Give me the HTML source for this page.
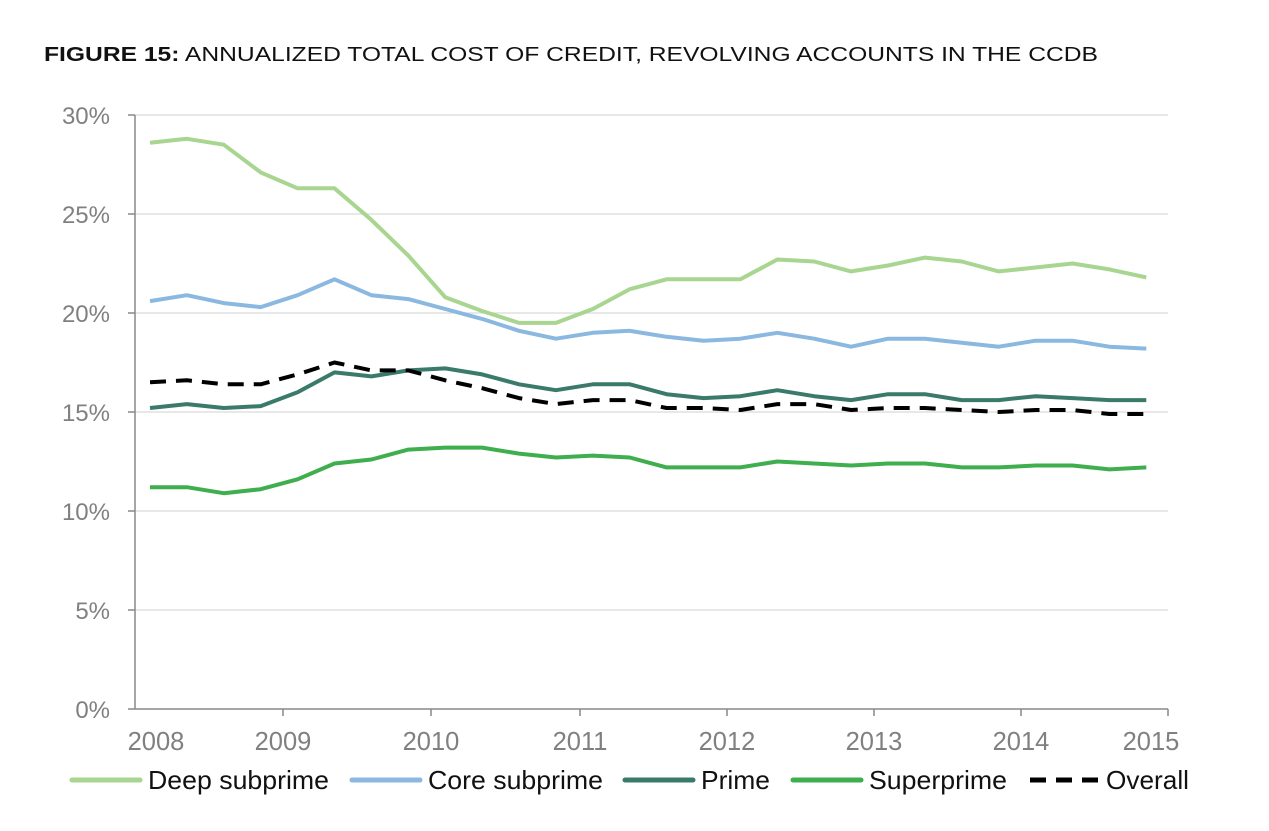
<!DOCTYPE html>
<html><head><meta charset="utf-8"><style>
body{margin:0;background:#fff;width:1269px;height:826px;overflow:hidden;font-family:"Liberation Sans",Arial,sans-serif}
</style></head><body>
<svg id="s" width="1269" height="826" xmlns="http://www.w3.org/2000/svg" font-family="Liberation Sans, Arial, sans-serif">
<rect width="1269" height="826" fill="#fff"/>
<text x="44" y="61" font-size="20" fill="#111" textLength="1054" lengthAdjust="spacingAndGlyphs"><tspan font-weight="bold">FIGURE 15:</tspan> ANNUALIZED TOTAL COST OF CREDIT, REVOLVING ACCOUNTS IN THE CCDB</text>
<g stroke="#d9d9d9" stroke-width="1.3">
<line x1="135" x2="1168" y1="115" y2="115"/><line x1="135" x2="1168" y1="214" y2="214"/>
<line x1="135" x2="1168" y1="313" y2="313"/><line x1="135" x2="1168" y1="412" y2="412"/>
<line x1="135" x2="1168" y1="511" y2="511"/><line x1="135" x2="1168" y1="610" y2="610"/>
</g>
<g stroke="#888" stroke-width="1.5">
<line x1="135" x2="135" y1="115" y2="709"/><line x1="128" x2="1168" y1="709" y2="709"/>
<line x1="128" x2="135" y1="115" y2="115"/><line x1="128" x2="135" y1="214" y2="214"/><line x1="128" x2="135" y1="313" y2="313"/><line x1="128" x2="135" y1="412" y2="412"/><line x1="128" x2="135" y1="511" y2="511"/><line x1="128" x2="135" y1="610" y2="610"/>
<line x1="283" x2="283" y1="709" y2="716"/><line x1="431" x2="431" y1="709" y2="716"/><line x1="580" x2="580" y1="709" y2="716"/><line x1="727" x2="727" y1="709" y2="716"/><line x1="874" x2="874" y1="709" y2="716"/><line x1="1021" x2="1021" y1="709" y2="716"/><line x1="1168" x2="1168" y1="709" y2="716"/>
</g>
<g font-size="24" fill="#808080" text-anchor="end">
<text x="110" y="124">30%</text><text x="110" y="223">25%</text><text x="110" y="322">20%</text><text x="110" y="421">15%</text><text x="110" y="520">10%</text><text x="110" y="619">5%</text><text x="110" y="718">0%</text>
</g>
<g font-size="25.5" fill="#808080" text-anchor="middle">
<text x="156" y="750">2008</text><text x="283" y="750">2009</text><text x="431" y="750">2010</text><text x="580" y="750">2011</text><text x="727" y="750">2012</text><text x="874" y="750">2013</text><text x="1021" y="750">2014</text><text x="1151" y="750">2015</text>
</g>
<g id="lines" fill="none" stroke-width="4" stroke-linejoin="round"></g>
<g stroke-width="5" stroke-linecap="round">
<line x1="72" x2="140" y1="780" y2="780" stroke="#a8d58f"/>
<line x1="352" x2="420" y1="780" y2="780" stroke="#8ab8e0"/>
<line x1="625" x2="693" y1="780" y2="780" stroke="#3a7a6a"/>
<line x1="793" x2="861" y1="780" y2="780" stroke="#3fae4f"/>
<line x1="1030" x2="1098" y1="780" y2="780" stroke="#000" stroke-dasharray="16 10" stroke-linecap="butt"/>
</g>
<g font-size="26" fill="#111">
<text x="148" y="789" textLength="181" lengthAdjust="spacingAndGlyphs">Deep subprime</text><text x="428" y="789" textLength="175" lengthAdjust="spacingAndGlyphs">Core subprime</text><text x="701" y="789" textLength="69" lengthAdjust="spacingAndGlyphs">Prime</text><text x="869" y="789" textLength="138" lengthAdjust="spacingAndGlyphs">Superprime</text><text x="1106" y="789" textLength="83" lengthAdjust="spacingAndGlyphs">Overall</text>
</g>
</svg>
<script>
var S=[
["#a8d58f","",[28.6,28.8,28.5,27.1,26.3,26.3,24.7,22.9,20.8,20.1,19.5,19.5,20.2,21.2,21.7,21.7,21.7,22.7,22.6,22.1,22.4,22.8,22.6,22.1,22.3,22.5,22.2,21.8]],
["#8ab8e0","",[20.6,20.9,20.5,20.3,20.9,21.7,20.9,20.7,20.2,19.7,19.1,18.7,19.0,19.1,18.8,18.6,18.7,19.0,18.7,18.3,18.7,18.7,18.5,18.3,18.6,18.6,18.3,18.2]],
["#3a7a6a","",[15.2,15.4,15.2,15.3,16.0,17.0,16.8,17.1,17.2,16.9,16.4,16.1,16.4,16.4,15.9,15.7,15.8,16.1,15.8,15.6,15.9,15.9,15.6,15.6,15.8,15.7,15.6,15.6]],
["#3fae4f","",[11.2,11.2,10.9,11.1,11.6,12.4,12.6,13.1,13.2,13.2,12.9,12.7,12.8,12.7,12.2,12.2,12.2,12.5,12.4,12.3,12.4,12.4,12.2,12.2,12.3,12.3,12.1,12.2]],
["#000","16 10",[16.5,16.6,16.4,16.4,16.9,17.5,17.1,17.1,16.6,16.2,15.7,15.4,15.6,15.6,15.2,15.2,15.1,15.4,15.4,15.1,15.2,15.2,15.1,15.0,15.1,15.1,14.9,14.9]]];
var g=document.getElementById('lines'),ns="http://www.w3.org/2000/svg";
S.forEach(function(s){var p=document.createElementNS(ns,'polyline');
p.setAttribute('points',s[2].map(function(v,i){return (150+36.9*i).toFixed(1)+','+(709-v*19.8).toFixed(1)}).join(' '));
p.setAttribute('stroke',s[0]);if(s[1])p.setAttribute('stroke-dasharray',s[1]);g.appendChild(p);});
</script>
</body></html>
